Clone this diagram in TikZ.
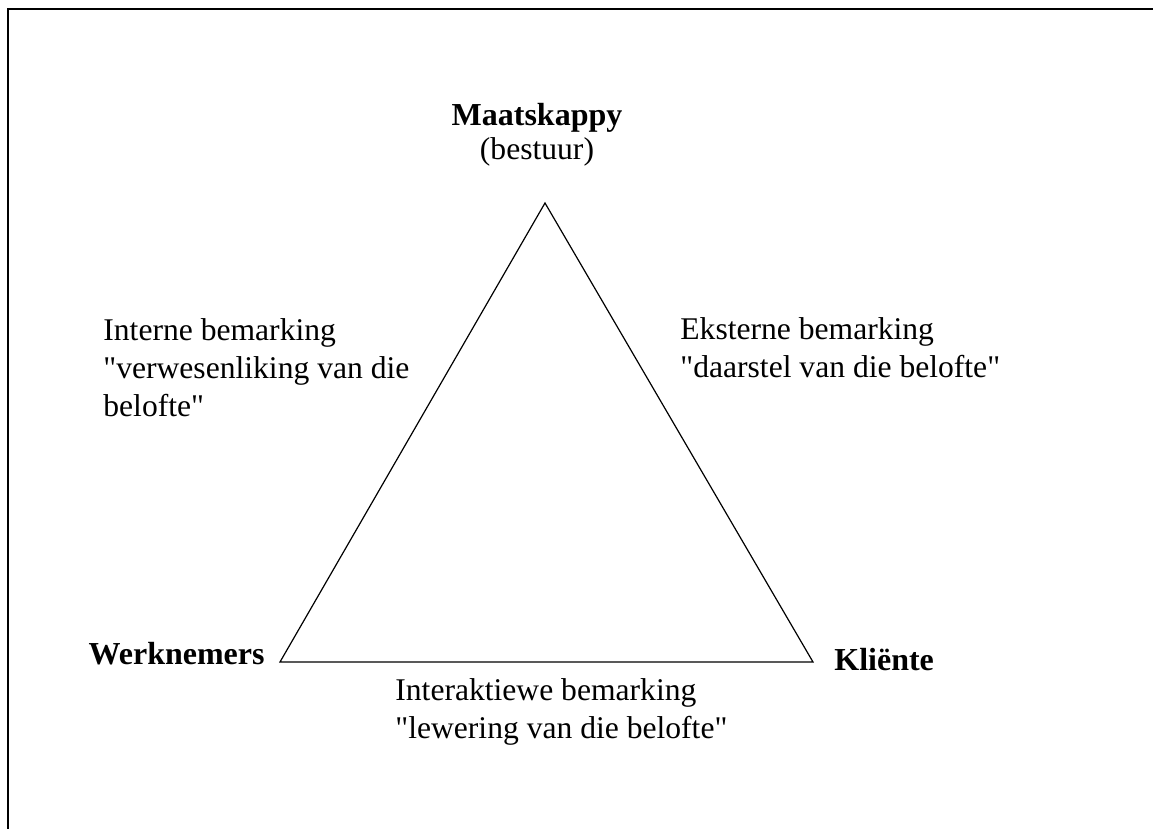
\documentclass[tikz,border=0pt]{standalone}
\usepackage{fontspec}
\setmainfont{Liberation Serif}
\usetikzlibrary{positioning}

\begin{document}
\begin{tikzpicture}[x=0.5pt,y=-0.5pt,
    lbl/.style={inner sep=0pt,font=\fontsize{15.8}{19}\selectfont},
    hoek/.style={lbl,font=\fontsize{16}{19}\selectfont\bfseries}]
    \useasboundingbox (0,0) rectangle (1153,829);
    \draw[line width=1pt] (1153,9) -- (8,9) -- (8,829);
    \coordinate (c1) at (545,203);
    \coordinate (c2) at (280,662);
    \coordinate (c3) at (813,662);
    \draw[line width=0.6pt] (c1) -- (c2) -- (c3) -- cycle;
    \node[hoek,anchor=base] (maat) at (537,126) {Maatskappy};
    \node[lbl,anchor=base] (bestuur) at (537,160) {(bestuur)};
    \node[hoek,anchor=base east] (werk) at (265,664) {Werknemers};
    \node[hoek,anchor=base west] (klient) at (834,670) {Kliënte};
    % base anchor sits on the last line
    \node[lbl,anchor=base west,align=left] (intern) at (103,416)
      {Interne bemarking\\\textquotedbl verwesenliking van die\\belofte\textquotedbl};
    \node[lbl,anchor=base west,align=left] (ekstern) at (680,378)
      {Eksterne bemarking\\\textquotedbl daarstel van die belofte\textquotedbl};
    \node[lbl,anchor=base west,align=left] (interaktief) at (395,738)
      {Interaktiewe bemarking\\\textquotedbl lewering van die belofte\textquotedbl};
\end{tikzpicture}
\end{document}
